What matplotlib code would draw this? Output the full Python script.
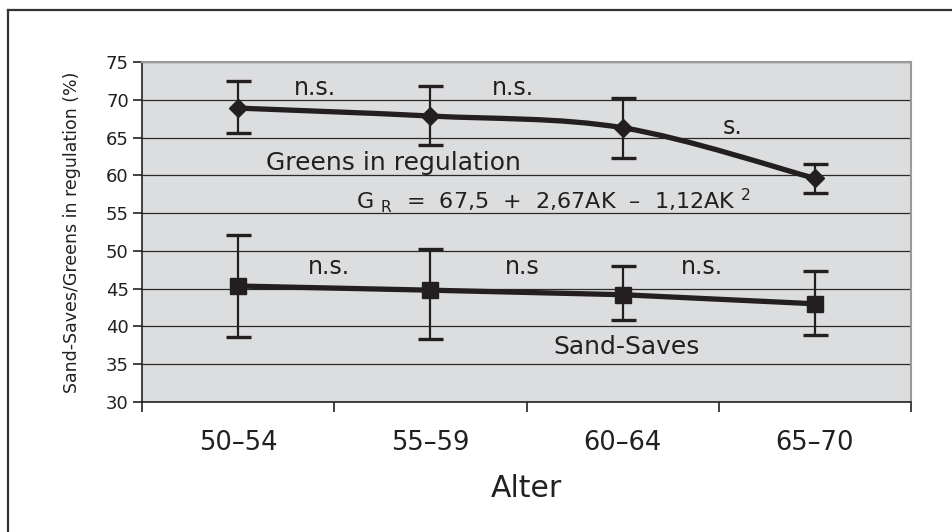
import matplotlib
matplotlib.use("Agg")
import matplotlib.pyplot as plt
from matplotlib.lines import Line2D
from matplotlib.path import Path
from matplotlib.patches import PathPatch

# Altersgruppen
age_groups = ["50–54", "55–59", "60–64", "65–70"]

# Greens in regulation (%): Mittelwert, obere / untere Fehlergrenze
greens_mean = [68.9, 67.85, 66.3, 59.6]
greens_upper = [72.5, 71.8, 70.2, 61.5]
greens_lower = [65.6, 64.0, 62.3, 57.7]

# Sand-Saves (%): Mittelwert, obere / untere Fehlergrenze
sand_mean = [45.35, 44.8, 44.2, 43.0]
sand_upper = [52.1, 50.3, 48.0, 47.3]
sand_lower = [38.6, 38.4, 40.8, 38.9]

# Signifikanz zwischen benachbarten Altersgruppen
greens_sig = ["n.s.", "n.s.", "s."]
sand_sig = ["n.s.", "n.s", "n.s."]

TEXT = "#231f20"


def smooth_path(xs, ys):
    """Bezier-Pfad durch alle Punkte (geglättete Linie)"""
    n = len(xs)
    verts = [(xs[0], ys[0])]
    codes = [Path.MOVETO]
    for i in range(n - 1):
        i0 = max(i - 1, 0)
        i3 = min(i + 2, n - 1)
        c1 = (xs[i] + (xs[i + 1] - xs[i0]) / 6, ys[i] + (ys[i + 1] - ys[i0]) / 6)
        c2 = (xs[i + 1] - (xs[i3] - xs[i]) / 6, ys[i + 1] - (ys[i3] - ys[i]) / 6)
        verts += [c1, c2, (xs[i + 1], ys[i + 1])]
        codes += [Path.CURVE4] * 3
    return Path(verts, codes)


def draw_series(ax, x, mean, upper, lower, marker, ms, smooth):
    yerr = [[m - lo for m, lo in zip(mean, lower)], [up - m for m, up in zip(mean, upper)]]
    ax.errorbar(x, mean, yerr=yerr, fmt="none", ecolor=TEXT, elinewidth=1.6,
                capsize=9, capthick=2.4, zorder=3)
    if smooth:
        ax.add_patch(PathPatch(smooth_path(x, mean), facecolor="none",
                               edgecolor=TEXT, lw=3.8, zorder=4))
    else:
        ax.plot(x, mean, color=TEXT, lw=3.8, zorder=4)
    ax.plot(x, mean, linestyle="none", marker=marker, ms=ms, color=TEXT, zorder=5)


fig = plt.figure(figsize=(9.52, 5.32), dpi=100)
plt.rcParams["font.family"] = "DejaVu Sans"

# Rahmen um die Abbildung
fig.add_artist(Line2D([8 / 952, 8 / 952], [0, 1 - 10 / 532], transform=fig.transFigure,
                      color="#333333", lw=1.6))
fig.add_artist(Line2D([8 / 952, 1], [1 - 10 / 532, 1 - 10 / 532], transform=fig.transFigure,
                      color="#333333", lw=1.6))

ax = fig.add_axes([142 / 952, 130 / 532, 769 / 952, 340 / 532])
ax.set_facecolor("#dcdddf")

x = list(range(len(age_groups)))
draw_series(ax, x, greens_mean, greens_upper, greens_lower, "D", 9.5, True)
draw_series(ax, x, sand_mean, sand_upper, sand_lower, "s", 11.5, False)

ax.set_xlim(-0.5, len(age_groups) - 0.5)
ax.set_ylim(30, 75)
ax.set_yticks(range(30, 80, 5))
ax.yaxis.grid(True, color="#2a2a2a", lw=0.9)
ax.set_axisbelow(True)

ax.set_xticks(x)
ax.set_xticklabels(age_groups, fontsize=18.5, color=TEXT)
ax.set_xticks([i - 0.5 for i in range(len(age_groups) + 1)], minor=True)
ax.tick_params(axis="x", which="major", length=0, pad=20)
ax.tick_params(axis="x", which="minor", length=7, width=1.2, color="#222222", direction="out")
ax.tick_params(axis="y", length=6.5, width=1.2, color="#222222", labelsize=13,
               labelcolor=TEXT, pad=3)

for side in ("left", "bottom"):
    ax.spines[side].set_color("#222222")
    ax.spines[side].set_linewidth(1.2)
for side in ("top", "right"):
    ax.spines[side].set_color("#9a9a9a")
    ax.spines[side].set_linewidth(1.5)

ax.set_xlabel("Alter", fontsize=21.5, color=TEXT, labelpad=13)
ax.set_ylabel("Sand-Saves/Greens in regulation (%)", fontsize=12.5, color=TEXT, labelpad=18)

# Signifikanz-Beschriftungen zwischen den Altersgruppen
for xp, yp, label in zip([0.4, 1.43, 2.57], [71.6, 71.6, 66.4], greens_sig):
    ax.text(xp, yp, label, fontsize=17, color=TEXT, ha="center", va="center")
for xp, label in zip([0.47, 1.48, 2.41], sand_sig):
    ax.text(xp, 47.9, label, fontsize=17, color=TEXT, ha="center", va="center")

ax.text(0.81, 61.6, "Greens in regulation", fontsize=18, color=TEXT, ha="center", va="center")
ax.text(1.64, 56.7,
        r"G $_{\mathregular{R}}$  =  67,5  +  2,67AK  –  1,12AK $^{\mathregular{2}}$",
        fontsize=16, color=TEXT, ha="center", va="center")
ax.text(2.02, 37.3, "Sand-Saves", fontsize=18, color=TEXT, ha="center", va="center")

fig.savefig("out.png", dpi=100)
